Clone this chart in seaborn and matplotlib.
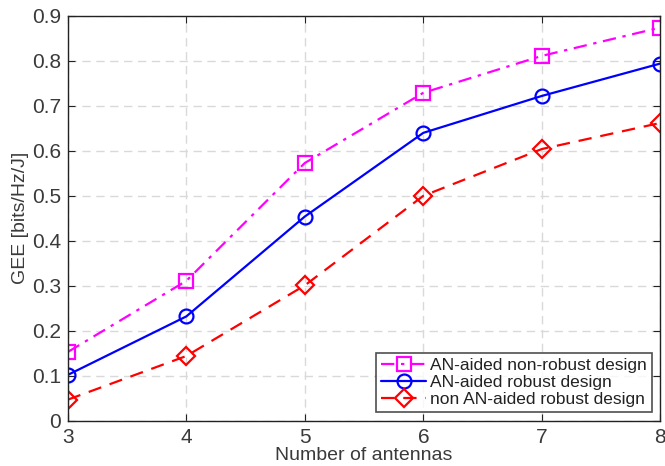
import matplotlib
matplotlib.use("Agg")
import matplotlib.pyplot as plt
import seaborn as sns
import pandas as pd

# data
antennas = [3, 4, 5, 6, 7, 8]
an_nonrobust = [0.153, 0.311, 0.573, 0.729, 0.811, 0.874]
an_robust = [0.102, 0.232, 0.454, 0.640, 0.722, 0.794]
non_an_robust = [0.047, 0.144, 0.301, 0.500, 0.604, 0.662]

labels = ["AN-aided non-robust design", "AN-aided robust design", "non AN-aided robust design"]
colors = ["#ff00ff", "#0000ff", "#ff0000"]
markers = ["s", "o", "D"]
styles = ["-.", "-", "--"]

df = pd.DataFrame({"antennas": antennas * 3,
                   "GEE": an_nonrobust + an_robust + non_an_robust,
                   "design": sum([[l] * len(antennas) for l in labels], [])})

sns.set_style("ticks")
plt.rcParams['font.family'] = ['Liberation Sans', 'DejaVu Sans']
text_col = "#3a3a3a"

fig = plt.figure(figsize=(6.65, 4.66), dpi=100)
ax = fig.add_axes([0.102, 0.097, 0.891, 0.869])

for lab, c, m, ls in zip(labels, colors, markers, styles):
    sub = df[df["design"] == lab]
    sns.lineplot(data=sub, x="antennas", y="GEE", ax=ax, color=c, linestyle=ls,
                 marker=m, markersize=10 if m != "D" else 9, markerfacecolor="none",
                 markeredgecolor=c, markeredgewidth=1.6, linewidth=1.6, label=lab)
# dash-dot for magenta, dashes for red
ax.lines[0].set_dashes([6, 3, 1.5, 3])
ax.lines[2].set_dashes([6, 4])

ax.set_xlim(3, 8)
ax.set_ylim(0, 0.9)
ax.set_xticks(antennas)
ax.set_yticks([i / 10 for i in range(10)])
ax.set_yticklabels(["0"] + ["%.1f" % (i / 10) for i in range(1, 10)])
ax.grid(True, color="#d9d9d9", linestyle=(0, (6, 4)), linewidth=1.0)
ax.set_axisbelow(True)
for s in ax.spines.values():
    s.set_visible(True)
    s.set_color("#222222")
    s.set_linewidth(1.0)
ax.tick_params(direction="in", length=5, top=True, right=True, labelsize=15,
               colors=text_col, labelcolor=text_col, color="#222222", pad=5)
ax.set_xlabel("Number of antennas", fontsize=14, color=text_col, labelpad=0)
ax.set_ylabel("GEE [bits/Hz/J]", fontsize=14, color=text_col, labelpad=2)

leg = ax.legend(loc="lower right", fontsize=12.5, frameon=True, fancybox=False,
                borderpad=0.3, labelspacing=0.1, handlelength=2.6, handletextpad=0.2,
                borderaxespad=0.5)
leg.get_frame().set_edgecolor("#222222")
leg.get_frame().set_linewidth(1.2)
for t in leg.get_texts():
    t.set_color("#222222")

fig.savefig("out.png", dpi=100)
